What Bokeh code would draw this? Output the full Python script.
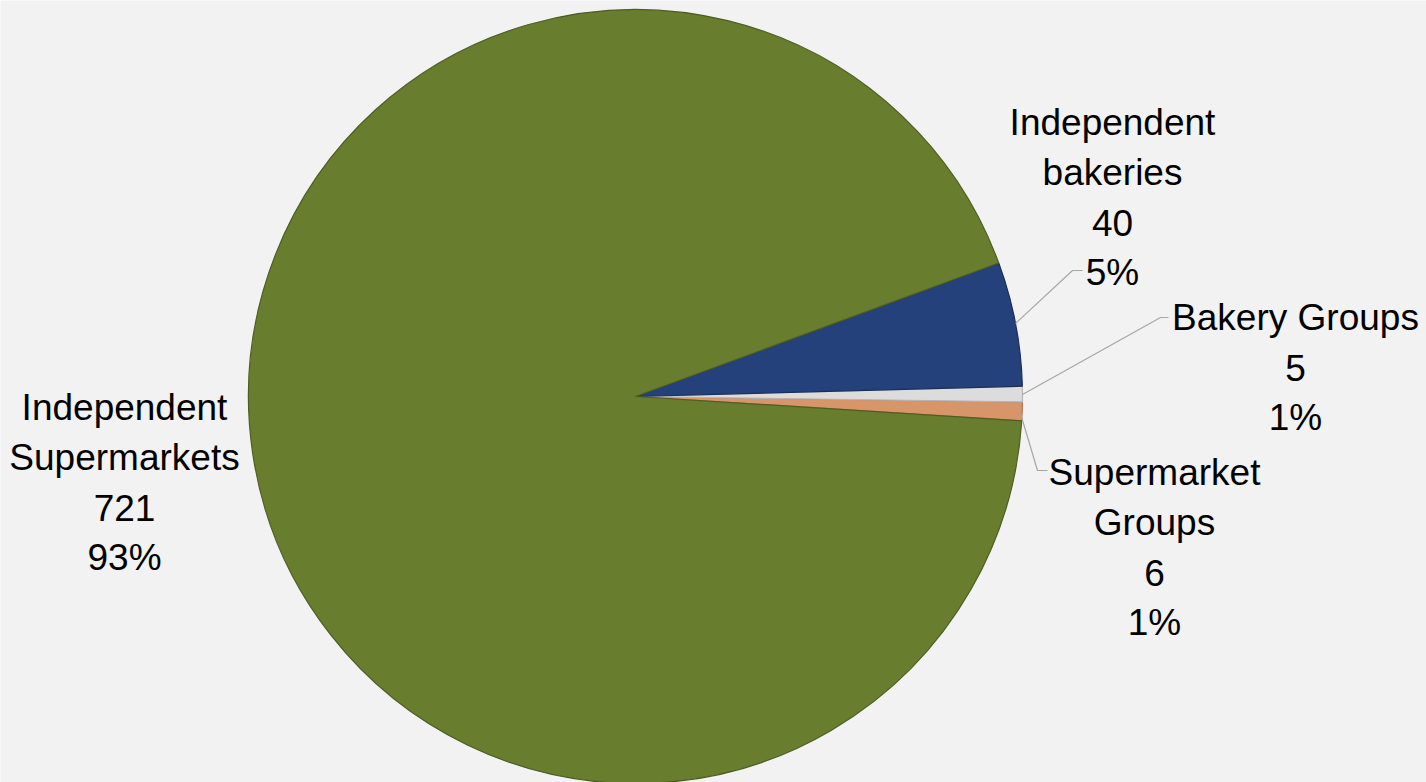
import math
from bokeh.plotting import figure
from bokeh.models import Range1d, ColumnDataSource
from bokeh.core.properties import value
from bokeh.embed import file_html
from bokeh.resources import INLINE

# ---- data (counter-clockwise drawing order) ----
categories = ["Supermarket\nGroups", "Bakery Groups", "Independent\nbakeries", "Independent\nSupermarkets"]
counts = [6, 5, 40, 721]
colors = ["#D8956A", "#DCDCDC", "#25417B", "#687D2E"]
edge_colors = ["#B07550", "#B5B5B5", "#1A2F5A", "#4E5E22"]

# ---- layout ----
W, H = 1426, 782
CX, CY, R = 635, H - 396, 387
START_DEG = -3.6
label_anchor = [(1154, 472), (1295, 317), (1112, 122), (124, 407)]  # first-line baseline (image px)
leaders = [
    [(1020, 413), (1037, 470), (1047, 470)],
    [(1022, 394), (1160, 317), (1168, 317)],
    [(1015, 323), (1072, 270), (1082, 270)],
    None,
]
LINE_STEP = 50
FONT = value("Liberation Sans")

total = sum(counts)
starts, ends = [], []
a = math.radians(START_DEG)
for c in counts:
    starts.append(a)
    a += 2 * math.pi * c / total
    ends.append(a)

p = figure(width=W, height=H, x_range=Range1d(0, W), y_range=Range1d(0, H),
           output_backend="svg", toolbar_location=None, min_border=0)
p.axis.visible = False
p.grid.visible = False
p.outline_line_color = None
p.background_fill_color = "#F2F2F2"
p.border_fill_color = "#F2F2F2"

src = ColumnDataSource(dict(start=starts, end=ends, color=colors, edge=edge_colors))
p.wedge(x=CX, y=CY, radius=R, start_angle="start", end_angle="end",
        fill_color="color", line_color="edge", line_width=1.2, source=src)

# leader lines
for ld in leaders:
    if ld is None:
        continue
    p.line([pt[0] for pt in ld], [H - pt[1] for pt in ld], line_color="#A6A6A6", line_width=1.2)

# labels
xs, ys, txt = [], [], []
for name, c, (lx, ly) in zip(categories, counts, label_anchor):
    pct = f"{round(100 * c / total)}%"
    lines = name.split("\n") + [str(c), pct]
    for i, line in enumerate(lines):
        xs.append(lx)
        ys.append(H - (ly + i * LINE_STEP))
        txt.append(line)
p.text(x=xs, y=ys, text=txt, text_align="center", text_baseline="alphabetic",
       text_font=FONT, text_font_size="37px", text_color="#000000")

open("out.html", "w").write(file_html(p, INLINE))
